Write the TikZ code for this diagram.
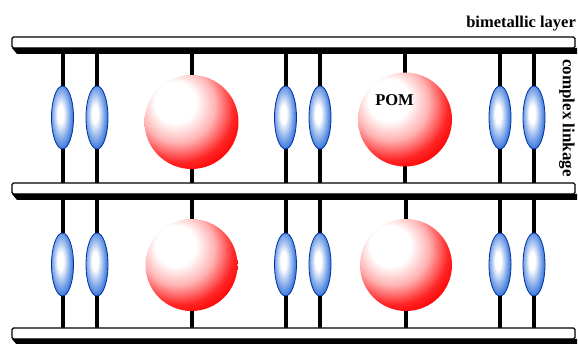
\documentclass[tikz,border=0pt]{standalone}
\usepackage{fontspec}
\setmainfont{Liberation Serif}
\usetikzlibrary{shapes.geometric,backgrounds}

% shaded red sphere with a highlight towards the upper left
\pgfdeclareradialshading{pomball}{\pgfpoint{-10bp}{12bp}}{%
  color(0bp)=(white); color(11bp)=(white); color(20bp)=(red!30!white);
  color(29bp)=(red!85!white); color(35bp)=(red); color(80bp)=(red)}
% bluish linker ellipsoid
\definecolor{linkblue}{RGB}{0,80,210}
\definecolor{linkedge}{RGB}{0,50,160}
\pgfdeclareradialshading{linkball}{\pgfpoint{-5bp}{3bp}}{%
  color(0bp)=(white); color(7bp)=(white); color(17bp)=(linkblue!40!white);
  color(29bp)=(linkblue!85!white); color(38bp)=(linkblue); color(80bp)=(linkblue)}

\tikzset{
  barface/.style={draw=black, line width=1.2pt, fill=white, rectangle,
    rounded corners=1.5pt, minimum width=563pt, minimum height=11pt,
    inner sep=0pt, outer sep=0pt},
  slab/.style={fill=black},
  linker/.style={ellipse, shading=linkball, draw=linkedge, line width=0.8pt,
    minimum width=22pt, minimum height=63pt, inner sep=0pt},
  pom/.style={circle, shading=pomball, inner sep=0pt, minimum size=#1},
  pom/.default=94pt,
  link/.style={line width=4pt, black},
  label/.style={font=\fontsize{16.5}{18}\selectfont\bfseries, inner sep=0pt}
}

\begin{document}
\begin{tikzpicture}[x=1pt,y=-1pt]
\useasboundingbox (0,0) rectangle (578,344);

% layers (white top face)
\node[barface] (L1) at (293.5,42.5) {};
\node[barface] (L2) at (293.5,188.5) {};
\node[barface] (L3) at (293.5,333.5) {};

% dark lower face of each layer
\foreach \b in {L1,L2,L3}{
  \fill[slab] (\b.south west) -- ++(565,0) -- ++(0,6) -- ++(-560,0) -- cycle;
}

% upper row of linkers and clusters
\node[linker] (a1) at (62.5,117.5) {};
\node[linker] (a2) at (97,117.5) {};
\node[pom] (a3) at (191.5,122) {};
\node[linker] (a4) at (285.5,117.5) {};
\node[linker] (a5) at (320,117.5) {};
\node[pom] (a6) at (405,119.5) {};
\node[linker] (a7) at (500,117.5) {};
\node[linker] (a8) at (534,117.5) {};

% lower row of linkers and clusters
\node[linker] (b1) at (62.5,264.5) {};
\node[linker] (b2) at (97,264.5) {};
\node[pom=92pt] (b3) at (191.5,265) {};
\node[linker] (b4) at (285.5,264.5) {};
\node[linker] (b5) at (320,264.5) {};
\node[pom=92pt] (b6) at (406,265) {};
\node[linker] (b7) at (500,264.5) {};
\node[linker] (b8) at (534,264.5) {};

% pillars joining the layers, behind the linkers and clusters
\begin{pgfonlayer}{background}
  \foreach \n in {a1,a2,a3,a4,a5,a6,a7,a8}{
    \draw[link] (L1.south -| \n) -- (L2.north -| \n);
  }
  \foreach \n in {b1,b2,b3,b4,b5,b6,b7,b8}{
    \draw[link] (L2.south -| \n) -- (L3.north -| \n);
  }
\end{pgfonlayer}

% labels
\node[label] (pomlbl) at (394.5,100) {POM};
\node[label, anchor=base east] (layerlbl) at (576,28) {bimetallic layer};
\node[label, rotate=-90, font=\fontsize{17}{18}\selectfont\bfseries] (linklbl) at (567,118) {complex linkage};
\end{tikzpicture}
\end{document}
